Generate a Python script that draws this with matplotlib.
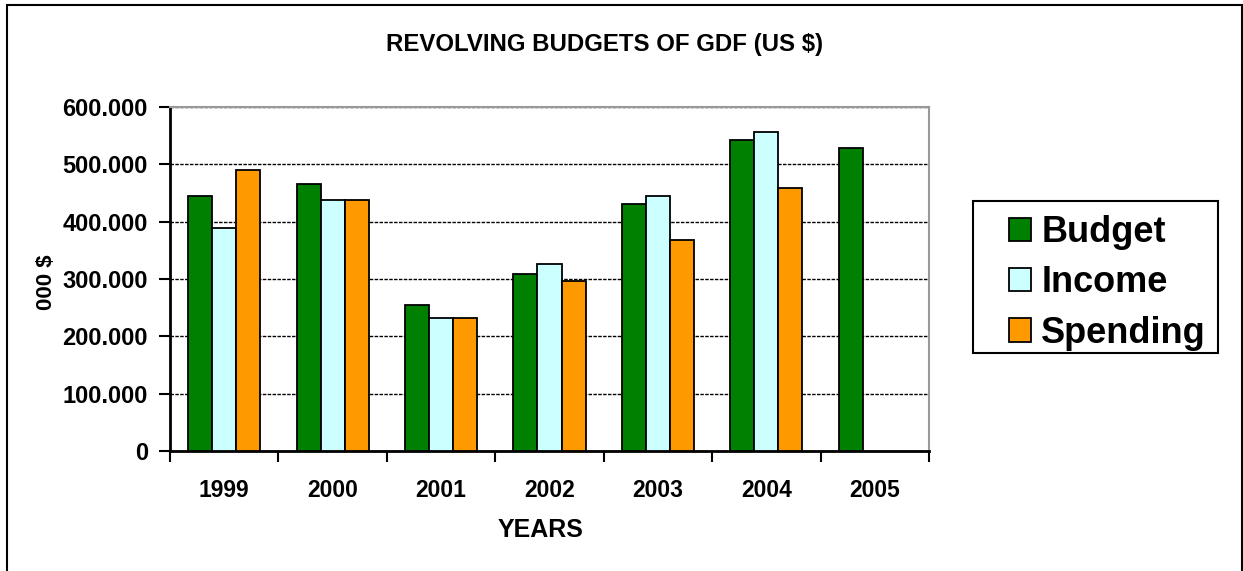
import numpy as np
import matplotlib.pyplot as plt
from matplotlib.patches import Rectangle
from matplotlib.ticker import FuncFormatter

# data (values in US $)
years = ['1999', '2000', '2001', '2002', '2003', '2004', '2005']
budget = [445000, 466000, 254000, 309000, 431000, 542000, 528000]
income = [389000, 438000, 232000, 327000, 445000, 556000, None]
spending = [490000, 438000, 232000, 296000, 368000, 459000, None]

series = [('Budget', budget, '#008000'),
          ('Income', income, '#CCFFFF'),
          ('Spending', spending, '#FF9900')]

plt.rcParams['font.family'] = ['Liberation Sans', 'DejaVu Sans']
plt.rcParams['font.weight'] = 'bold'

W, H = 1243, 571
fig = plt.figure(figsize=(W / 100, H / 100), dpi=100)
ax = fig.add_axes([170 / W, 1 - 451 / H, (929 - 170) / W, (451 - 107) / H])

x = np.arange(len(years))
w = 2 / 9
for i, (name, vals, col) in enumerate(series):
    xs = [x[j] for j, v in enumerate(vals) if v is not None]
    vs = [v for v in vals if v is not None]
    ax.bar(np.array(xs) + (i - 1) * w, vs, width=w, color=col,
           edgecolor='black', linewidth=1.3, label=name, zorder=3)

ax.set_xlim(-0.5, len(years) - 0.5)
ax.set_ylim(0, 600000)
ax.set_yticks(np.arange(0, 600001, 100000))
ax.yaxis.set_major_formatter(FuncFormatter(lambda v, p: f'{int(v):,}'.replace(',', '.')))

# x ticks between the categories, labels in the middle
ax.set_xticks(np.arange(-0.5, len(years), 1))
ax.set_xticklabels([])
ax.set_xticks(x, minor=True)
ax.set_xticklabels(years, minor=True)
ax.tick_params(axis='x', which='major', direction='out', length=8, width=1.5)
ax.tick_params(axis='x', which='minor', length=0, pad=20, labelsize=16.5)
ax.tick_params(axis='y', direction='out', length=8, width=1.5, pad=8, labelsize=17)

ax.yaxis.grid(True, color='black', linestyle=(0, (2.5, 1)), linewidth=1, zorder=0)
ax.set_axisbelow(True)
for s in ['top', 'right']:
    ax.spines[s].set_color('#999999')
    ax.spines[s].set_linewidth(1.5)
for s in ['left', 'bottom']:
    ax.spines[s].set_linewidth(2)

fig.text(605 / W, 1 - 44 / H, 'REVOLVING BUDGETS OF GDF (US $)', ha='center', va='center',
         fontsize=17.3, fontweight='bold')
fig.text(541 / W, 1 - 530 / H, 'YEARS', ha='center', va='center', fontsize=18, fontweight='bold')
fig.text(46 / W, 1 - 282 / H, '000 $', ha='center', va='center', rotation=90,
         fontsize=16, fontweight='bold')

# legend box drawn separately so padding can match
fig.patches.append(Rectangle((973 / W, 1 - 353 / H), (1218 - 973) / W, (353 - 201) / H,
                             transform=fig.transFigure, facecolor='none',
                             edgecolor='black', linewidth=1.5, zorder=-1))
leg = fig.legend(*ax.get_legend_handles_labels(), loc='center left',
                 bbox_to_anchor=(1009 / W, 1 - 283 / H),
                 frameon=False, fontsize=26,
                 handlelength=0.62, handleheight=0.62, handletextpad=0.27,
                 labelspacing=0.42, borderpad=0, borderaxespad=0)

# outer chart border
fig.patches.append(Rectangle((7 / W, -0.05), (1242 - 7) / W, 1.05 - 5 / H,
                             transform=fig.transFigure, fill=False,
                             edgecolor='black', linewidth=1.5))

fig.savefig('out.png', dpi=100)
